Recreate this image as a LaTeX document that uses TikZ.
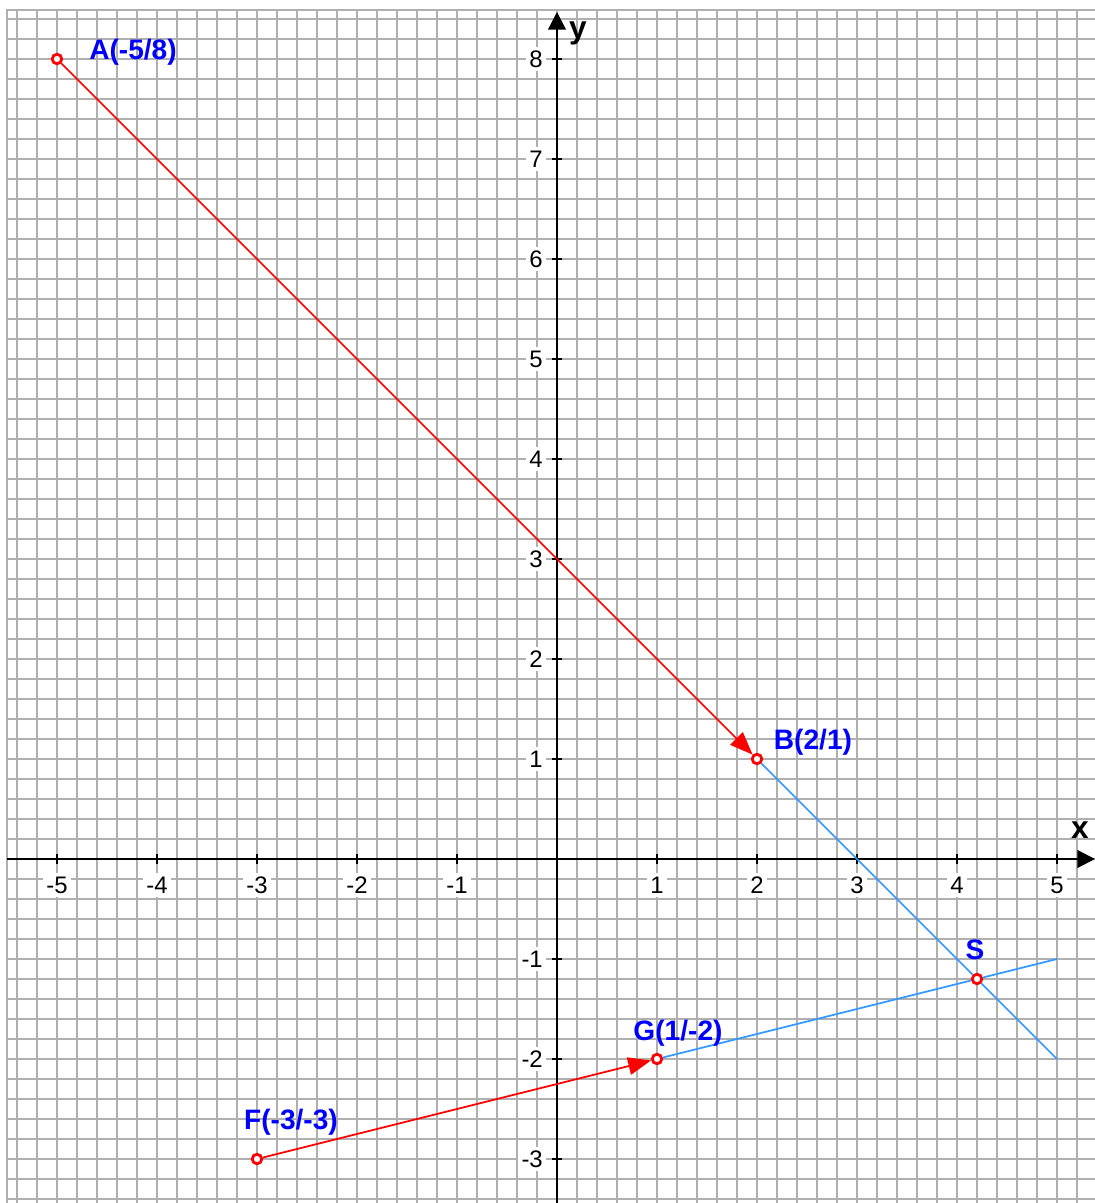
\documentclass[tikz,border=0pt]{standalone}
\usepackage{fontspec}
\setmainfont{Liberation Sans}
\usetikzlibrary{arrows.meta,positioning}
\tikzset{gridline/.style={draw=cgrid, line width=0.7pt}}
\tikzset{axis/.style={-{Triangle[length=5pt,width=5pt]}, line width=0.6pt, black}}
\tikzset{vec/.style={-{Triangle[length=6.5pt,width=5pt]}, line width=0.5pt, cred}}
\tikzset{gline/.style={line width=0.5pt, cline}}
\tikzset{pt/.style={circle, draw=cred, fill=white, line width=0.8pt, inner sep=0pt, minimum size=0.95mm}}
\tikzset{plab/.style={font=\fontsize{8}{9}\selectfont\bfseries, text=cblue, inner sep=0pt}}
\tikzset{tlab/.style={font=\fontsize{6.8}{7}\selectfont, fill=white, inner sep=1pt}}
\tikzset{alab/.style={font=\fontsize{9}{10}\selectfont\bfseries, inner sep=0pt}}
\definecolor{cgrid}{RGB}{176,176,176}
\definecolor{cred}{RGB}{255,0,0}
\definecolor{cblue}{RGB}{0,0,255}
\definecolor{cline}{RGB}{51,153,255}

\begin{document}
\begin{tikzpicture}[x=1cm, y=1cm]
        \useasboundingbox (-5.57,-3.44) rectangle (5.38,8.59);
        
        %%% GRID %%%
        \draw[gridline, step=0.2] (-5.5,-3.44) grid (5.38,8.49);
        \draw[gridline] (-5.5,-3.44) -- (-5.5,8.49) -- (5.38,8.49);
        
        %%% TICK LABELS %%%
        \foreach \i in {-5,-4,-3,-2,-1,1,2,3,4,5}
            \node[tlab] (xl\i) at (\i,-0.26) {\i};
        \foreach \j in {-3,-2,-1,1,2,3,4,5,6,7,8}
            \node[tlab, anchor=east] (yl\j) at (-0.1,\j) {\j};
        
        %%% AXES %%%
        \coordinate (xs) at (-5.5,0);
        \coordinate (xe) at (5.38,0);
        \coordinate (ys) at (0,-3.44);
        \coordinate (ye) at (0,8.47);
        \draw[axis] (xs) -- (xe);
        \draw[axis] (ys) -- (ye);
        \foreach \i in {-5,-4,-3,-2,-1,1,2,3,4,5}
            \draw[line width=0.5pt] (\i,-0.05) -- (\i,0.05);
        \foreach \j in {-3,-2,-1,1,2,3,4,5,6,7,8}
            \draw[line width=0.5pt] (-0.05,\j) -- (0.05,\j);
        \node[alab] (xlab) at (5.23,0.29) {x};
        \node[alab] (ylab) at (0.21,8.26) {y};
        
        %%% POINTS %%%
        \node[pt] (A) at (-5,8) {};
        \node[pt] (B) at (2,1) {};
        \node[pt] (F) at (-3,-3) {};
        \node[pt] (G) at (1,-2) {};
        \node[pt] (S) at (4.2,-1.2) {};
        \coordinate (e1) at (5,-2);
        \coordinate (e2) at (5,-1);
        
        %%% LINES %%%
        \draw[gline] (B) -- (S);
        \draw[gline] (S) -- (e1);
        \draw[gline] (G) -- (S);
        \draw[gline] (S) -- (e2);
        \draw[vec] (A) -- (B);
        \draw[vec] (F) -- (G);
        
        %%% LABELS %%%
        \node[plab] (Alab) at (-4.24,8.07) {A(-5/8)};
        \node[plab] (Blab) at (2.56,1.17) {B(2/1)};
        \node[plab] (Slab) at (4.18,-0.91) {S};
        \node[plab] (Glab) at (1.21,-1.74) {G(1/-2)};
        \node[plab] (Flab) at (-2.66,-2.63) {F(-3/-3)};
    \end{tikzpicture}
\end{document}
